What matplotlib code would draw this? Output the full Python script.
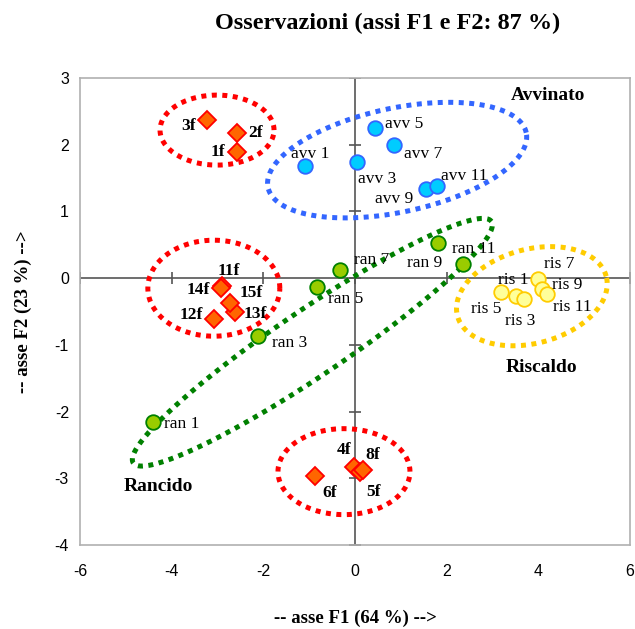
import matplotlib.pyplot as plt
import numpy as np

# sample scores on the first two factors
f_names = ['1f', '2f', '3f', '4f', '5f', '6f', '8f', '11f', '12f', '13f', '14f', '15f']
f_x = [-2.58, -2.58, -3.23, -0.02, 0.12, -0.87, 0.17, -2.90, -3.08, -2.62, -2.93, -2.73]
f_y = [1.89, 2.17, 2.37, -2.83, -2.90, -2.97, -2.88, -0.12, -0.61, -0.51, -0.15, -0.37]

avv_names = ['avv 1', 'avv 3', 'avv 5', 'avv 7', 'avv 9', 'avv 11']
avv_x = [-1.09, 0.04, 0.44, 0.85, 1.55, 1.79]
avv_y = [1.68, 1.74, 2.25, 1.99, 1.33, 1.38]

ran_names = ['ran 1', 'ran 3', 'ran 5', 'ran 7', 'ran 9', 'ran 11']
ran_x = [-4.41, -2.12, -0.83, -0.33, 1.81, 2.36]
ran_y = [-2.16, -0.87, -0.13, 0.12, 0.52, 0.21]

ris_names = ['ris 1', 'ris 3', 'ris 5', 'ris 7', 'ris 9', 'ris 11']
ris_x = [3.52, 3.69, 3.19, 4.00, 4.08, 4.19]
ris_y = [-0.27, -0.31, -0.21, -0.01, -0.16, -0.24]

# label offsets in points (dx, dy, ha)
f_off = {'1f': (-8, 0, 'right'), '2f': (8, 0, 'left'), '3f': (-8, -4, 'right'),
         '4f': (-2, 12, 'right'), '5f': (4, -15, 'left'), '6f': (5, -12, 'left'),
         '8f': (2, 11, 'left'), '11f': (5, 11, 'center'), '12f': (-8, 3, 'right'),
         '13f': (6, -1, 'left'), '14f': (-8, -1, 'right'), '15f': (7, 7, 'left')}
avv_off = {'avv 1': (4, 9, 'center'), 'avv 3': (1, -12, 'left'), 'avv 5': (7, 3, 'left'),
           'avv 7': (7, -6, 'left'), 'avv 9': (-9, -7, 'right'), 'avv 11': (3, 7, 'left')}
ran_off = {'ran 1': (8, -1, 'left'), 'ran 3': (10, -5, 'left'), 'ran 5': (8, -9, 'left'),
           'ran 7': (10, 7, 'left'), 'ran 9': (3, -14, 'right'), 'ran 11': (-8, 11, 'left')}
ris_off = {'ris 1': (-2, 12, 'center'), 'ris 3': (-3, -16, 'center'), 'ris 5': (0, -12, 'right'),
           'ris 7': (4, 11, 'left'), 'ris 9': (7, 3, 'left'), 'ris 11': (4, -9, 'left')}

# group outlines: centre (data), half axes (pixels), tilt (deg), colour
groups = [
    (-3.01, 2.22, 57, 35, 0, '#ff0000'),
    (0.92, 1.77, 132, 52, 12, '#3366ff'),
    (-0.93, -0.96, 216, 33, 34, '#008000'),
    (-3.08, -0.15, 66, 48, 0, '#ff0000'),
    (-0.24, -2.90, 66, 43, 0, '#ff0000'),
    (3.86, -0.27, 77, 47, 15, '#ffcc00'),
]
group_names = ['Avvinato', 'Riscaldo', 'Rancido']
group_x = [4.21, 4.07, -4.30]
group_y = [2.74, -1.34, -3.13]

serif = 'Liberation Serif'
plt.rcParams['font.family'] = 'Liberation Sans'
plt.rcParams['axes.unicode_minus'] = False

fig = plt.figure(figsize=(6.35, 6.29), dpi=100)
ax = fig.add_axes([0.126, 0.1335, 0.866, 0.7424])
ax.set_xlim(-6, 6)
ax.set_ylim(-4, 3)

# pixel size of one data unit, used for the outlines
px_x = 0.866 * 635 / 12
px_y = 0.7424 * 629 / 7

for cx, cy, a, b, ang, col in groups:
    t = np.linspace(0, 2 * np.pi, 300)
    th = np.radians(ang)
    ex = a * np.cos(t) * np.cos(th) - b * np.sin(t) * np.sin(th)
    ey = a * np.cos(t) * np.sin(th) + b * np.sin(t) * np.cos(th)
    ax.plot(cx + ex / px_x, cy + ey / px_y, color=col, lw=3.6,
            linestyle=(0, (1, 1.1)), dash_capstyle='butt', zorder=2)

# axes through the origin, with crossing ticks
ax.axhline(0, color='#555555', lw=1.2, zorder=1)
ax.axvline(0, color='#555555', lw=1.2, zorder=1)
xt = np.arange(-6, 7, 2)
yt = np.arange(-4, 4, 1)
ax.plot(xt, np.zeros_like(xt), ls='none', marker='|', ms=8, mew=1.2, color='#555555', zorder=1)
ax.plot(np.zeros_like(yt), yt, ls='none', marker='_', ms=8, mew=1.2, color='#555555', zorder=1)

ax.plot(f_x, f_y, ls='none', marker='D', ms=9, mfc='#ff6600', mec='#ff0000', mew=1.3, zorder=4)
ax.plot(avv_x, avv_y, ls='none', marker='o', ms=10.5, mfc='#00ccff', mec='#3366ff', mew=1.3, zorder=4)
ax.plot(ran_x, ran_y, ls='none', marker='o', ms=10.5, mfc='#99cc00', mec='#008000', mew=1.3, zorder=4)
ax.plot(ris_x, ris_y, ls='none', marker='o', ms=10.5, mfc='#ffff99', mec='#ffcc00', mew=1.3, zorder=4)

for names, xs, ys, offs, bold in [(f_names, f_x, f_y, f_off, True),
                                  (avv_names, avv_x, avv_y, avv_off, False),
                                  (ran_names, ran_x, ran_y, ran_off, False),
                                  (ris_names, ris_x, ris_y, ris_off, False)]:
    for n, x, y in zip(names, xs, ys):
        dx, dy, ha = offs[n]
        ax.annotate(n, (x, y), xytext=(dx, dy), textcoords='offset points',
                    ha=ha, va='center', fontsize=12.5, family=serif,
                    fontweight='bold' if bold else 'normal', zorder=5)

for n, x, y in zip(group_names, group_x, group_y):
    ax.text(x, y, n, ha='center', va='center', fontsize=14, family=serif, fontweight='bold')

for s in ax.spines.values():
    s.set_color('#b0b0b0')
    s.set_linewidth(1.2)
ax.set_xticks(xt)
ax.set_yticks(yt)
ax.tick_params(length=0, labelsize=11.5)
ax.tick_params(axis='x', pad=14)
ax.tick_params(axis='y', pad=8)

ax.set_xlabel('-- asse F1 (64 %) -->', fontsize=13.5, family=serif, fontweight='bold', labelpad=22)
ax.set_ylabel('-- asse F2 (23 %) -->', fontsize=13.5, family=serif, fontweight='bold', labelpad=16)
fig.text(0.611, 0.962, 'Osservazioni (assi F1 e F2: 87 %)', ha='center', va='center',
         fontsize=17.5, family=serif, fontweight='bold')

fig.savefig('out.png', dpi=100)
